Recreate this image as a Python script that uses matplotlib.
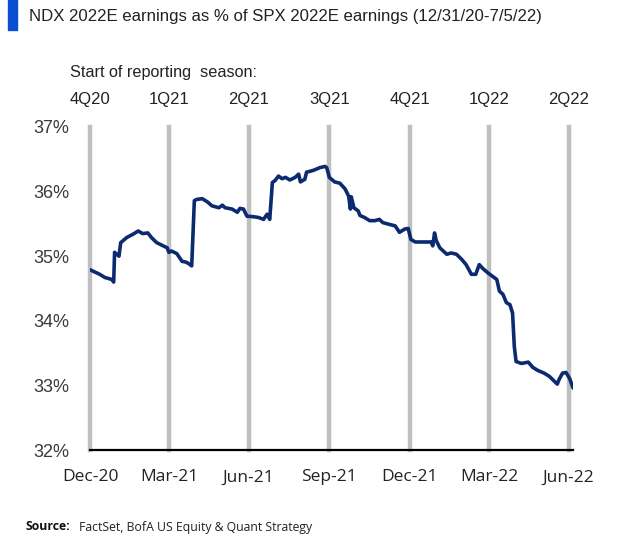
import matplotlib
matplotlib.use("Agg")
import matplotlib.pyplot as plt
import matplotlib.dates as mdates
from matplotlib.patches import Rectangle
import pandas as pd

# NDX 2022E earnings as % of SPX 2022E earnings
dates = ["2020-12-31", "2021-01-11", "2021-01-17", "2021-01-25", "2021-01-27",
         "2021-01-28", "2021-02-02", "2021-02-04", "2021-02-11", "2021-02-18",
         "2021-02-24", "2021-03-01", "2021-03-07", "2021-03-11", "2021-03-17",
         "2021-03-23", "2021-03-29", "2021-03-31", "2021-04-03", "2021-04-09",
         "2021-04-15", "2021-04-19", "2021-04-22", "2021-04-26", "2021-04-29",
         "2021-05-02", "2021-05-08", "2021-05-14", "2021-05-19", "2021-05-27",
         "2021-05-31", "2021-06-03", "2021-06-11", "2021-06-17", "2021-06-20",
         "2021-06-24", "2021-06-28", "2021-07-06", "2021-07-11", "2021-07-17",
         "2021-07-21", "2021-07-24", "2021-07-27", "2021-07-30", "2021-08-03",
         "2021-08-07", "2021-08-11", "2021-08-16", "2021-08-22", "2021-08-26",
         "2021-08-28", "2021-09-02", "2021-09-04", "2021-09-12", "2021-09-19",
         "2021-09-25", "2021-09-27", "2021-09-30", "2021-10-06", "2021-10-12",
         "2021-10-18", "2021-10-22", "2021-10-24", "2021-10-25", "2021-10-28",
         "2021-11-02", "2021-11-04", "2021-11-09", "2021-11-15", "2021-11-21",
         "2021-11-26", "2021-11-30", "2021-12-08", "2021-12-14", "2021-12-19",
         "2021-12-25", "2021-12-29", "2022-01-01", "2022-01-06", "2022-01-15",
         "2022-01-24", "2022-01-26", "2022-01-28", "2022-01-30", "2022-02-03",
         "2022-02-11", "2022-02-16", "2022-02-22", "2022-02-28", "2022-03-05",
         "2022-03-11", "2022-03-16", "2022-03-20", "2022-03-24", "2022-03-30",
         "2022-04-04", "2022-04-09", "2022-04-12", "2022-04-16", "2022-04-20",
         "2022-04-24", "2022-04-27", "2022-04-29", "2022-05-01", "2022-05-07",
         "2022-05-15", "2022-05-20", "2022-05-26", "2022-06-02", "2022-06-08",
         "2022-06-14", "2022-06-17", "2022-06-19", "2022-06-23", "2022-06-27",
         "2022-07-01", "2022-07-05"]
share = [34.79, 34.72, 34.67, 34.64, 34.60,
         35.06, 35.00, 35.21, 35.29, 35.34,
         35.39, 35.35, 35.36, 35.29, 35.21,
         35.17, 35.13, 35.06, 35.08, 35.04,
         34.92, 34.91, 34.89, 34.85, 35.86,
         35.88, 35.89, 35.84, 35.78, 35.75,
         35.79, 35.75, 35.73, 35.68, 35.74,
         35.73, 35.62, 35.61, 35.60, 35.57,
         35.65, 35.57, 36.14, 36.17, 36.24,
         36.20, 36.22, 36.18, 36.22, 36.27,
         36.15, 36.19, 36.30, 36.33, 36.37,
         36.39, 36.37, 36.22, 36.15, 36.13,
         36.04, 35.93, 35.73, 35.92, 35.75,
         35.70, 35.63, 35.60, 35.55, 35.55,
         35.57, 35.52, 35.49, 35.47, 35.37,
         35.42, 35.43, 35.26, 35.22, 35.22,
         35.22, 35.16, 35.36, 35.24, 35.13,
         35.03, 35.05, 35.03, 34.95, 34.87,
         34.72, 34.72, 34.87, 34.81, 34.74,
         34.69, 34.64, 34.46, 34.41, 34.28,
         34.25, 34.12, 33.60, 33.37, 33.34,
         33.36, 33.28, 33.23, 33.19, 33.14,
         33.06, 33.02, 33.09, 33.19, 33.20,
         33.11, 32.96]

quarter_ends = ["2020-12-31", "2021-03-31", "2021-06-30", "2021-09-30",
                "2021-12-31", "2022-03-31", "2022-06-30"]
season_labels = ["4Q20", "1Q21", "2Q21", "3Q21", "4Q21", "1Q22", "2Q22"]
yticks = [32, 33, 34, 35, 36, 37]

x = pd.to_datetime(dates)
qx = pd.to_datetime(quarter_ends)

arial = ["Liberation Sans", "DejaVu Sans"]
segoe = ["Open Sans", "DejaVu Sans"]

fig = plt.figure(figsize=(6.3, 5.39), dpi=100)
ax = fig.add_axes([0.1429, 0.1651, 0.7667, 0.5993])

for q in qx:
    ax.axvline(q, color="#bfbfbf", lw=3.2, zorder=1, clip_on=False)
ax.plot(x, share, color="#0b2a6f", lw=2.6, zorder=3, solid_joinstyle="round",
        solid_capstyle="round")

ax.set_xlim(pd.Timestamp("2020-12-31"), pd.Timestamp("2022-07-05"))
ax.set_ylim(32, 37)
ax.set_yticks(yticks)
ax.set_yticklabels([f"{v}%" for v in yticks], family=arial, fontsize=13,
                   color="#3a3a3a")
ax.set_xticks(qx)
ax.xaxis.set_major_formatter(mdates.DateFormatter("%b-%y"))
for lab in ax.get_xticklabels():
    lab.set_family(segoe)
    lab.set_fontsize(12.5)
    lab.set_color("#222222")
ax.tick_params(axis="x", length=0, pad=14)
ax.tick_params(axis="y", length=0, pad=15)

for side in ["top", "right", "left"]:
    ax.spines[side].set_visible(False)
ax.spines["bottom"].set_linewidth(1.6)
ax.spines["bottom"].set_color("black")
ax.spines["bottom"].set_zorder(4)

# reporting-season labels above the quarter lines
trans = ax.get_xaxis_transform()
for q, lab in zip(qx, season_labels):
    ax.text(q, 1.085, lab, transform=trans, ha="center", va="center",
            family=arial, fontsize=12, color="#222222")
fig.text(70 / 630, 1 - 72 / 539, "Start of reporting  season:", ha="left",
         va="center", family=arial, fontsize=11.7, color="#222222")

# title with blue marker
fig.patches.append(Rectangle((8 / 630, 1 - 30 / 539), 9 / 630, 30 / 539,
                             transform=fig.transFigure, color="#0a4fd0"))
fig.text(29 / 630, 1 - 17 / 539,
         "NDX 2022E earnings as % of SPX 2022E earnings (12/31/20-7/5/22)",
         ha="left", va="center", family=arial, fontsize=12.1, color="#222222")

fig.text(26 / 630, 1 - 527 / 539, "Source:", ha="left", va="center",
         family=segoe, fontsize=8.8, weight="bold", color="#111111")
fig.text(79 / 630, 1 - 527 / 539, "FactSet, BofA US Equity & Quant Strategy",
         ha="left", va="center", family=segoe, fontsize=8.8, color="#222222")

fig.savefig("out.png", dpi=100)
